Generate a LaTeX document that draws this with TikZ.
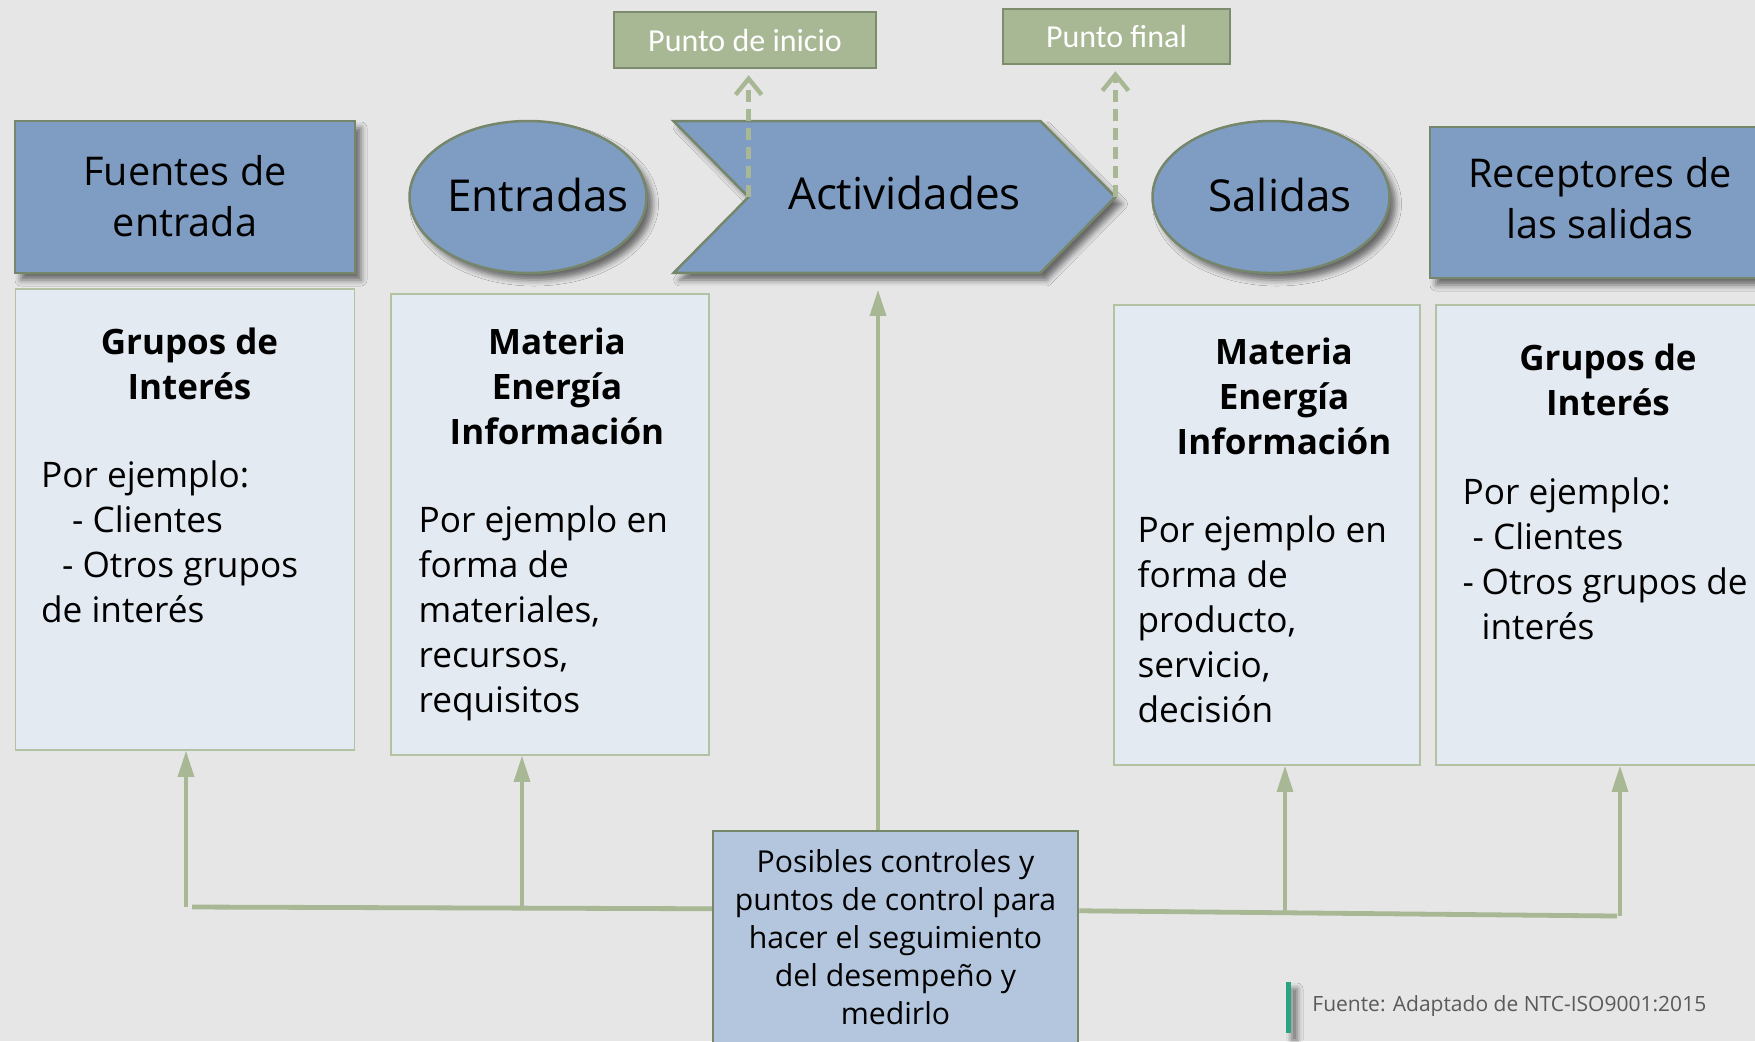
\documentclass[tikz,border=0pt]{standalone}
\usepackage{fontspec}
\setmainfont{Open Sans}
\newfontfamily\tagfont{Carlito}
\usetikzlibrary{positioning, shapes.geometric, arrows.meta, shadows.blur}

\definecolor{bggray}{HTML}{E6E6E6}
\definecolor{hdblue}{HTML}{7F9DC3}
\definecolor{hdline}{HTML}{76866A}
\definecolor{infofill}{HTML}{E4EAF2}
\definecolor{infoline}{HTML}{B2C2A2}
\definecolor{ctrlfill}{HTML}{B3C6DD}
\definecolor{tagfill}{HTML}{A8B794}
\definecolor{tagline}{HTML}{7C8C6C}
\definecolor{linkgreen}{HTML}{A8B794}
\definecolor{barteal}{HTML}{2BA383}
\definecolor{notegray}{HTML}{5A5A5A}

\tikzset{
	hdshadow/.style={blur shadow={shadow xshift=3pt, shadow yshift=-3.5pt, shadow blur radius=3pt, shadow opacity=55}},
	hdshape/.style={draw=hdline, line width=1.25pt, fill=hdblue, hdshadow},
	hdbox/.style={hdshape, rectangle, align=center, inner sep=0pt, font=\fontsize{19.8}{25.5}\selectfont},
	hdoval/.style={hdshape, ellipse, inner sep=0pt, minimum width=118.5pt, minimum height=76pt, font=\fontsize{22}{26}\selectfont},
	hdtext/.style={inner sep=0pt, font=\fontsize{22}{26}\selectfont},
	infobox/.style={draw=infoline, line width=0.8pt, fill=infofill, inner sep=0pt},
	grptitle/.style={inner sep=0pt, align=center, font=\bfseries\fontsize{17.5}{22.5}\selectfont},
	grpbody/.style={inner sep=0pt, align=left, font=\fontsize{17.6}{22.5}\selectfont},
	ctrlbox/.style={draw=hdline, line width=1.25pt, fill=ctrlfill, inner sep=0pt},
	ctrltext/.style={inner sep=0pt, align=center, font=\fontsize{15.1}{19}\selectfont},
	tag/.style={draw=tagline, line width=1.2pt, fill=tagfill, inner sep=0pt, text=white, font=\tagfont\fontsize{16}{18}\selectfont},
	dasharrow/.style={draw=linkgreen, line width=2.2pt, dash pattern=on 6pt off 3.5pt, -{Straight Barb[length=8pt, width=13pt]}, shorten >=3pt},
	varrow/.style={draw=linkgreen, line width=1.6pt, -{Triangle[length=13pt, width=8pt]}},
	hline/.style={draw=linkgreen, line width=2.4pt},
	footnote/.style={inner sep=0pt, text=notegray, font=\fontsize{10.5}{12}\selectfont}
}

\begin{document}
\begin{tikzpicture}[x=0.5pt, y=-0.5pt]
	\fill[bggray] (0,0) rectangle (1755,1041);
	\useasboundingbox (0,0) rectangle (1755,1041);

	\node[hdbox, minimum width=170pt, minimum height=76pt] (fuentes) at (185,197) {\raisebox{1pt}{Fuentes de}\\\raisebox{1pt}{entrada}};
	\node[hdoval] (entradas) at (528,197) {\makebox[0pt]{\hspace*{10pt}\raisebox{2pt}{Entradas}}};
	\node[minimum width=220.5pt, minimum height=75.5pt, inner sep=0pt] (act) at (894.5,197) {};
	\coordinate (notch) at ([xshift=37.5pt]act.west);
	\draw[hdshape] (act.north west) -- ([xshift=-37.5pt]act.north east) -- (act.east)
		-- ([xshift=-37.5pt]act.south east) -- (act.south west) -- (notch) -- cycle;
	\node[hdtext] (acttext) at ([xshift=5pt, yshift=2pt]act.center) {Actividades};
	\node[hdoval] (salidas) at (1271,197) {\makebox[0pt]{\hspace*{9pt}\raisebox{2pt}{Salidas}}};
	\node[hdbox, minimum width=170pt, minimum height=75.5pt] (receptores) at (1600,202.5) {\raisebox{5pt}{Receptores de}\\\raisebox{5pt}{las salidas}};

	\node[infobox, minimum width=169.5pt, minimum height=230.5pt, below=7pt of fuentes] (box1) {};
	\node[infobox, minimum width=159pt, minimum height=230.5pt, below=9.5pt of entradas, xshift=11pt] (box2) {};
	\node[infobox, minimum width=153pt, minimum height=230pt, below=15pt of salidas, xshift=-2pt] (box3) {};
	\node[infobox, minimum width=164pt, minimum height=230pt, below=12.5pt of receptores] (box4) {};

	\node[grptitle, below=19.5pt of box1.north, xshift=2.25pt] (title1) {Grupos de\\Interés};
	\node[grpbody, below right=86pt and 13pt of box1.north west] (body1)
		{Por ejemplo:\\\hspace*{15.5pt}- Clientes\\\hspace*{10.5pt}- Otros grupos\\de interés};
	\node[grptitle, below=17pt of box2.north, xshift=3.5pt] (title2) {Materia\\Energía\\Información};
	\node[grpbody, below right=106pt and 14pt of box2.north west] (body2)
		{Por ejemplo en\\forma de\\materiales,\\recursos,\\requisitos};
	\node[grptitle, below=16.5pt of box3.north, xshift=8.5pt] (title3) {Materia\\Energía\\Información};
	\node[grpbody, below right=105.5pt and 12pt of box3.north west] (body3)
		{Por ejemplo en\\forma de\\producto,\\servicio,\\decisión};
	\node[grptitle, below=19.5pt of box4.north, xshift=4pt] (title4) {Grupos de\\Interés};
	\node[grpbody, below right=86.5pt and 13.5pt of box4.north west] (body4)
		{Por ejemplo:\\\hspace*{5pt}- Clientes\\\makebox[9.5pt][l]{-}Otros grupos de\\\hspace*{9.5pt}interés};

	\node[ctrlbox, minimum width=182.5pt, minimum height=120pt] (ctrl) at (895.5,951) {};
	\node[ctrltext, below=9.5pt of ctrl.north] (ctrltxt)
		{Posibles controles y\\puntos de control para\\hacer el seguimiento\\del desempeño y\\medirlo};

	\node[tag, minimum width=131pt, minimum height=28pt] (inicio) at (745,40) {Punto de inicio};
	\node[tag, minimum width=113.5pt, minimum height=27.5pt] (final) at (1116.5,36.5) {Punto final};

	\draw[dasharrow] (notch) -- (notch |- inicio.south);
	\draw[dasharrow] (act.east) -- (act.east |- final.south);

	\coordinate (cup) at ([xshift=-8.75pt]ctrl.north);
	\draw[varrow, shorten >=8.5pt] (cup) -- (cup |- act.south);

	\coordinate (cl) at ([yshift=-39.5pt]ctrl.north west);
	\coordinate (cr) at ([yshift=-40.5pt]ctrl.north east);
	\coordinate (j1) at (186,907);
	\coordinate (j2) at (522,909);
	\coordinate (j3) at (1285,913.5);
	\coordinate (j4) at (1620,916);
	\draw[hline] (cl) -- ([xshift=3pt]j1);
	\draw[hline] (cr) -- ([xshift=-1.5pt]j4);
	\draw[varrow] (j1) -- (j1 |- box1.south);
	\draw[varrow] (j2) -- (j2 |- box2.south);
	\draw[varrow] (j3) -- (j3 |- box3.south);
	\draw[varrow] (j4) -- (j4 |- box4.south);

	\fill[barteal, hdshadow] (1286,982) rectangle (1291,1033);
	\node[footnote, anchor=west] (fuente) at (1312,1006) {Fuente: Adaptado de NTC-ISO9001:2015};
\end{tikzpicture}
\end{document}
